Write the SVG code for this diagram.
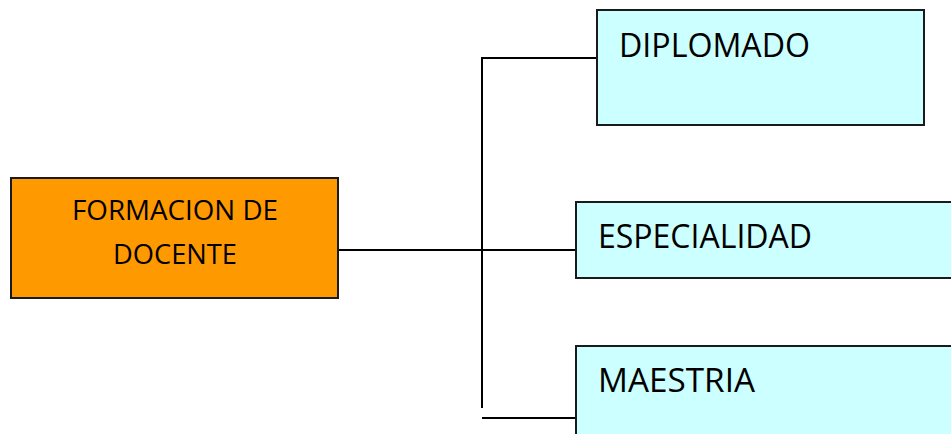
<svg xmlns="http://www.w3.org/2000/svg" width="951" height="434" viewBox="0 0 951 434">
<style>
.box{stroke:#1a1a1a;stroke-width:2}
.c{fill:#ccffff}
.o{fill:#ff9900}
.t{font-family:"Open Sans","Liberation Sans",Arial,sans-serif;fill:#000}
.ln{stroke:#000;stroke-width:2;fill:none}
</style>
<rect width="951" height="434" fill="#fff"/>
<g id="connectors">
<line class="ln" x1="482" y1="58" x2="482" y2="408"/>
<line class="ln" x1="481" y1="58" x2="597" y2="58"/>
<line class="ln" x1="338" y1="250" x2="578" y2="250"/>
<line class="ln" x1="482" y1="418" x2="578" y2="418"/>
</g>
<g id="formacion">
<rect class="box o" x="11" y="178" width="327" height="120"/>
<text class="t" x="175" y="220" font-size="27" text-anchor="middle" textLength="206" lengthAdjust="spacingAndGlyphs">FORMACION DE</text>
<text class="t" x="175" y="264" font-size="27" text-anchor="middle" textLength="124" lengthAdjust="spacingAndGlyphs">DOCENTE</text>
</g>
<g id="diplomado">
<rect class="box c" x="597" y="10" width="327" height="115"/>
<text class="t" x="619" y="57" font-size="32" textLength="191" lengthAdjust="spacingAndGlyphs">DIPLOMADO</text>
</g>
<g id="especialidad">
<rect class="box c" x="576" y="202" width="390" height="76"/>
<text class="t" x="598" y="248" font-size="32" textLength="214" lengthAdjust="spacingAndGlyphs">ESPECIALIDAD</text>
</g>
<g id="maestria">
<rect class="box c" x="576" y="346" width="390" height="100"/>
<text class="t" x="598" y="392" font-size="32" textLength="157" lengthAdjust="spacingAndGlyphs">MAESTRIA</text>
</g>
</svg>
